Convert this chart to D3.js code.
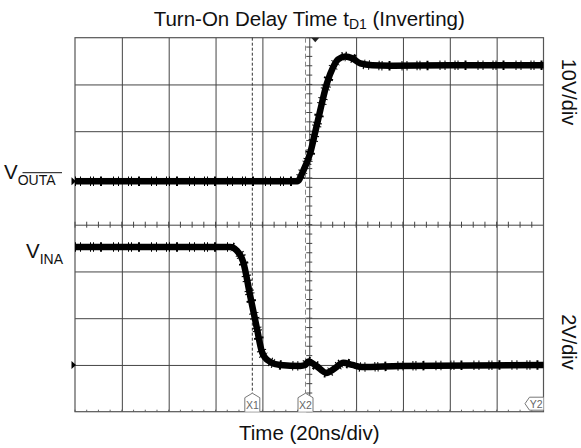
<!DOCTYPE html>
<html>
<head>
<meta charset="utf-8">
<script src="https://cdn.jsdelivr.net/npm/d3@7"></script>
<style>
  html, body { margin: 0; padding: 0; background: #fff; }
  svg { display: block; font-family: "Liberation Sans", Arial, sans-serif; }
</style>
</head>
<body>
<div id="chart"></div>
<script>
'use strict';

// scope screen: 10 x 8 divisions, 20ns/div
var timeDomain = [-100, 100];
var divDomain = [-4, 4];

// VOUTA (ch1, 10V/div)
var outTime = [-100, -5.1, -2.6, 0.4, 2.5, 4.7, 7.6, 10.2, 12.4, 15.4, 18.4, 21.8, 26.9, 34.6, 60, 100];
var outVolt = [0, 0, 2.2, 6.0, 10.4, 15.2, 21.0, 24.4, 26.1, 26.7, 26.3, 25.2, 24.8, 24.7, 24.8, 24.8];

// VINA (ch2, 2V/div)
var inTime = [-100, -33.7, -31.2, -28.2, -25.2, -22.3, -20.2, -18.8, -16.6, -12.4, -3.8, -1.7, -0.4, 3.0, 7.3, 11.1, 14.5, 18.4, 22.6, 38.8, 100];
var inVolt = [5.05, 5.05, 4.92, 4.41, 2.95, 1.54, 0.56, 0.30, 0.13, 0, -0.04, 0, 0.15, -0.04, -0.34, -0.13, 0.09, 0, -0.09, -0.04, 0];

// cursors (ns)
var cursorNames = ['X1', 'X2'];
var cursorTimes = [-24.3, -1.6];

var titleText = 'Turn-On Delay Time t';
var titleSub = 'D1';
var titleTail = ' (Inverting)';
var xLabel = 'Time (20ns/div)';
var scaleLabels = ['10V/div', '2V/div'];

(function () {
  var width = 581,
      height = 448,
      left = 75,
      right = 543.5,
      top = 37.7,
      bottom = 411.7;

  var x = d3.scaleLinear().domain(timeDomain).range([left, right]);
  var yDiv = d3.scaleLinear().domain(divDomain).range([bottom, top]);
  // ch1 ground at +0.93 div, ch2 ground at -3 div
  var y1 = d3.scaleLinear().domain([(-4 - 0.93) * 10, (4 - 0.93) * 10]).range([bottom, top]);
  var y2 = d3.scaleLinear().domain([(-4 + 3) * 2, (4 + 3) * 2]).range([bottom, top]);

  var svg = d3.select('#chart').append('svg')
      .attr('width', width)
      .attr('height', height);

  // grid
  svg.append('g')
      .attr('class', 'grid-x')
      .attr('transform', 'translate(0,' + bottom + ')')
      .call(d3.axisBottom(x).tickValues(d3.range(-80, 100, 20)).tickSize(-(bottom - top)).tickFormat(''))
      .call(function (g) { g.select('.domain').remove(); });

  svg.append('g')
      .attr('class', 'grid-y')
      .attr('transform', 'translate(' + left + ',0)')
      .call(d3.axisLeft(yDiv).tickValues(d3.range(-3, 4, 1)).tickSize(-(right - left)).tickFormat(''))
      .call(function (g) { g.select('.domain').remove(); });

  svg.selectAll('.grid-x line, .grid-y line')
      .attr('stroke', '#444')
      .attr('stroke-width', 1);

  // minor ticks on the centre cross and bottom edge
  var minorX = d3.range(-100, 100.1, 5);
  var minorY = d3.range(-4, 4.01, 0.2);

  svg.append('g').selectAll('line')
      .data(minorX)
    .enter().append('line')
      .attr('x1', function(d) { return x(d); })
      .attr('x2', function(d) { return x(d); })
      .attr('y1', yDiv(0) - 3)
      .attr('y2', yDiv(0) + 3)
      .attr('stroke', '#444');

  svg.append('g').selectAll('line')
      .data(minorX)
    .enter().append('line')
      .attr('x1', function(d) { return x(d); })
      .attr('x2', function(d) { return x(d); })
      .attr('y1', bottom - 2)
      .attr('y2', bottom)
      .attr('stroke', '#666');

  svg.append('g').selectAll('line')
      .data(minorY)
    .enter().append('line')
      .attr('x1', x(0) - 3)
      .attr('x2', x(0) + 3)
      .attr('y1', function(d) { return yDiv(d); })
      .attr('y2', function(d) { return yDiv(d); })
      .attr('stroke', '#444');

  svg.append('rect')
      .attr('x', left)
      .attr('y', top)
      .attr('width', right - left)
      .attr('height', bottom - top)
      .attr('fill', 'none')
      .attr('stroke', '#555')
      .attr('stroke-width', 1.2);

  // cursors
  svg.append('line')
      .attr('x1', x(cursorTimes[0])).attr('x2', x(cursorTimes[0]))
      .attr('y1', top).attr('y2', bottom - 18)
      .attr('stroke', '#333')
      .attr('stroke-dasharray', '3,2');
  svg.append('line')
      .attr('x1', x(cursorTimes[1])).attr('x2', x(cursorTimes[1]))
      .attr('y1', top).attr('y2', bottom - 18)
      .attr('stroke', '#888')
      .attr('stroke-dasharray', '5,3');

  var flag = svg.selectAll('.flag')
      .data(cursorNames)
    .enter().append('g')
      .attr('class', 'flag')
      .attr('transform', function(d, i) { return 'translate(' + x(cursorTimes[i]) + ',' + bottom + ')'; });

  flag.append('path')
      .attr('d', 'M-7.5,0V-14L0,-18.5L7.5,-14V0')
      .attr('fill', '#fff')
      .attr('stroke', '#777');

  flag.append('text')
      .attr('y', -3)
      .attr('text-anchor', 'middle')
      .style('font-size', '10.5px')
      .attr('fill', '#666')
      .text(function(d) { return d; });

  var y2flag = svg.append('g')
      .attr('transform', 'translate(' + right + ',' + (bottom - 8) + ')');
  y2flag.append('path')
      .attr('d', 'M0,-6.5H-14L-18.5,0L-14,6.5H0')
      .attr('fill', '#fff')
      .attr('stroke', '#777');
  y2flag.append('text')
      .attr('x', -1)
      .attr('y', 4)
      .attr('text-anchor', 'end')
      .style('font-size', '10.5px')
      .attr('fill', '#666')
      .text('Y2');

  // trigger marker at top
  svg.append('path')
      .attr('d', 'M' + (x(0) + 2) + ',' + top + 'h8l-4,4.5z')
      .attr('fill', '#222');

  // traces: solid core plus a ragged fringe for the noise
  function trace(times, volts, y) {
    var pts = times.map(function(t, i) { return [x(t), y(volts[i])]; });
    var line = d3.line().curve(d3.curveMonotoneX);
    svg.append('path')
        .attr('d', line(pts))
        .attr('fill', 'none')
        .attr('stroke', '#000')
        .attr('stroke-width', 9.5)
        .attr('stroke-dasharray', '1,4,1,9,1,2,1,6,2,11');
    svg.append('path')
        .attr('d', line(pts))
        .attr('fill', 'none')
        .attr('stroke', '#000')
        .attr('stroke-width', 6.5)
        .attr('stroke-linejoin', 'round');
  }

  trace(outTime, outVolt, y1);
  trace(inTime, inVolt, y2);

  // ground markers
  [y1(0), y2(0)].forEach(function (gy) {
    svg.append('path')
        .attr('d', 'M71.5,' + (gy - 4) + 'L76,' + gy + 'L71.5,' + (gy + 4) + 'Z')
        .attr('fill', '#000');
  });

  // labels
  var title = svg.append('text')
      .attr('x', x(0))
      .attr('y', 26)
      .attr('text-anchor', 'middle')
      .style('font-size', '20.5px')
      .attr('fill', '#111');
  title.append('tspan').text(titleText);
  title.append('tspan').attr('dy', 3).style('font-size', '14px').text(titleSub);
  title.append('tspan').attr('dy', -3).text(titleTail);

  svg.append('text')
      .attr('x', x(0))
      .attr('y', 440)
      .attr('text-anchor', 'middle')
      .style('font-size', '20.5px')
      .attr('fill', '#111')
      .text(xLabel);

  svg.append('text')
      .attr('transform', 'translate(562,' + 92 + ') rotate(90)')
      .attr('text-anchor', 'middle')
      .style('font-size', '20px')
      .attr('fill', '#111')
      .text(scaleLabels[0]);

  svg.append('text')
      .attr('transform', 'translate(562,' + 342 + ') rotate(90)')
      .attr('text-anchor', 'middle')
      .style('font-size', '20px')
      .attr('fill', '#111')
      .text(scaleLabels[1]);

  var vOut = svg.append('text')
      .attr('x', 4)
      .attr('y', 178.5)
      .style('font-size', '20.5px')
      .attr('fill', '#111');
  vOut.append('tspan').text('V');
  vOut.append('tspan').attr('dy', 6.5).style('font-size', '14px').text('OUTA');
  svg.append('line')
      .attr('x1', 22.5).attr('x2', 62)
      .attr('y1', 172.7).attr('y2', 172.7)
      .attr('stroke', '#111');

  var vIn = svg.append('text')
      .attr('x', 26)
      .attr('y', 258.3)
      .style('font-size', '20.5px')
      .attr('fill', '#111');
  vIn.append('tspan').text('V');
  vIn.append('tspan').attr('dy', 6).style('font-size', '14px').text('INA');
})();
</script>
</body>
</html>
